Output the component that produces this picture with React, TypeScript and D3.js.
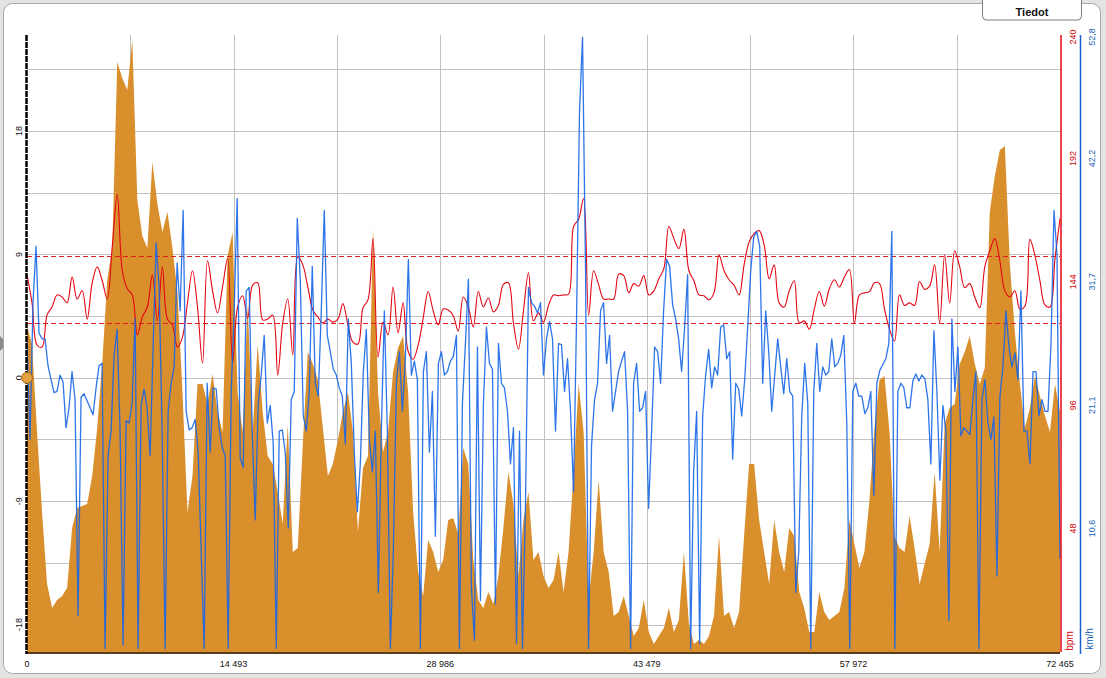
import React from "react";
import * as d3 from "d3";

const DIST_MAX = 72465;
const X_TICKS = [0, 14493, 28986, 43479, 57972, 72465];
const GRADE_TICKS = [-18, -9, 0, 9, 18];
const HR_TICKS = [48, 96, 144, 192, 240];
const SPEED_TICKS = [10.56, 21.12, 31.68, 42.24, 52.8];
const HR_ZONES = [128, 154];

// altitude profile (m), evenly spaced over the distance
const ALTITUDE = [
  163, 154, 110, 70, 34, 22, 26, 28, 32, 62, 72, 73, 74, 88, 112, 144, 186, 202, 295, 287,
  281, 306, 226, 208, 202, 245, 224, 210, 220, 202, 180, 130, 70, 88, 134, 134, 124, 139, 120, 110,
  198, 210, 130,
  110, 174, 110, 154, 120, 98, 94, 80, 64, 114, 50, 52, 104, 150, 144, 136, 112, 88, 94, 106,
  120, 130, 110, 60, 92, 98, 212, 130, 100, 110, 140, 152, 158, 130, 70, 40, 28, 56, 50, 40, 46,
  66, 67, 59, 102, 94, 46, 26, 22, 30, 24, 38, 62, 90, 74, 38, 66, 80, 46, 50, 38,
  32, 36, 50, 30, 50, 90, 134, 110, 26, 50, 86, 50, 40, 18, 20, 28, 18, 8, 12, 26, 10, 4,
  8, 12, 22, 10, 16, 50, 14, 4, 6, 4, 8, 18, 58, 18, 20, 12, 20, 58, 94, 94,
  66, 50, 34, 66, 50, 40, 62, 58, 30, 22, 10, 10, 30, 20, 16, 18, 20, 32, 66, 54, 42, 50,
  76, 112, 136, 138, 110, 58, 52, 50, 68, 52, 34, 44, 54, 90, 50, 114, 122, 124, 144, 150,
  158, 144, 134, 142, 220, 238, 251, 253, 194, 160, 134, 112, 122, 138, 128, 118, 110, 134, 120,
];

// speed (km/h), evenly spaced over the distance
const SPEED = [
  26.5, 18.2, 29.9, 34.7, 27.3, 26.8, 26.8, 24.5, 23.3, 22.2,
  22.3, 23.7, 23.1, 19.2, 20.9, 24.0, 21.6, 3.1, 21.8, 22.1,
  21.5, 20.9, 20.3, 22.6, 24.5, 24.7, 0.3, 16.8, 18.9, 25.4,
  27.6, 18.9, 0.6, 19.8, 19.6, 21.3, 28.5, 0.3, 21.1, 22.5,
  20.9, 16.8, 26.1, 35.0, 31.2, 18.9, 0.3, 20.6, 23.0, 24.4,
  33.3, 29.2, 37.8, 20.6, 19.0, 19.2, 19.9, 17.1, 8.6, 0.3,
  23.0, 17.1, 22.6, 22.5, 19.2, 17.5, 16.8, 0.3, 22.3, 29.2,
  38.8,
  16.6, 15.8, 30.9, 31.2, 18.9, 11.3, 21.3, 23.7, 27.1, 19.6,
  21.1, 17.8, 0.3, 18.9, 19.0, 17.1, 10.6, 21.6, 22.3, 37.1,
  31.9, 20.2, 18.9, 22.3, 33.0, 23.0, 21.9, 29.2, 37.8, 27.1,
  25.7, 24.2, 23.7, 22.6, 21.9, 17.8, 28.5, 24.7, 17.1, 12.0,
  16.1, 24.0, 27.6, 18.2, 15.4, 18.9, 5.1, 18.9, 29.2, 18.9,
  0.3, 8.6, 23.0, 25.7, 20.6, 25.1, 33.6, 23.7, 24.9, 23.3,
  0.3, 24.0, 25.7, 17.1, 22.3, 9.9, 24.7, 25.7, 23.7, 24.0,
  24.9, 25.3, 27.1, 0.3, 21.3, 26.4, 31.9, 5.5, 1.0, 26.1,
  4.4, 21.3, 27.8, 24.7, 24.2, 4.1, 26.4, 23.0, 22.6, 20.6,
  16.1, 19.2, 0.7, 18.9, 0.3, 12.7, 31.2, 29.9, 29.6, 29.0,
  29.9, 23.7, 26.8, 28.3, 26.8, 18.9, 26.4, 26.3, 22.3, 25.1,
  20.6, 13.7, 28.5, 46.4, 52.6, 32.6, 0.3, 17.7, 21.6, 23.0,
  29.2, 29.9, 24.7, 27.1, 20.6, 22.3, 24.0, 24.9, 25.7, 20.6,
  0.3, 23.0, 24.7, 20.6, 20.9, 22.3, 12.3, 18.9, 26.1, 25.7,
  23.0, 29.2, 33.6, 33.0, 29.7, 28.5, 26.8, 24.0, 27.8, 32.3,
  0.3, 15.4, 20.6, 0.7, 20.2, 23.7, 25.9, 22.6, 24.4, 23.7,
  27.8, 28.0, 25.1, 25.7, 16.5, 23.0, 22.5, 20.2, 23.3, 27.8,
  32.6, 35.5, 36.0, 34.7, 23.0, 29.2, 25.7, 20.6, 23.7, 26.8,
  24.4, 22.1, 25.1, 22.3, 21.9, 5.1, 8.6, 20.2, 24.7, 21.3,
  0.3, 22.3, 26.4, 22.3, 24.4, 23.7, 24.0, 26.8, 24.4, 24.7,
  25.4, 27.1, 19.6, 0.3, 22.3, 23.0, 21.9, 21.9, 20.4, 20.9,
  22.3, 13.4, 23.0, 24.1, 24.6, 25.1, 26.4, 36.0, 0.3, 22.3,
  23.0, 22.6, 20.9, 20.9, 23.2, 23.8, 23.2, 23.7, 23.4, 21.6,
  16.1, 27.5, 22.3, 14.7, 21.1, 18.9, 2.7, 28.5, 22.3, 26.1,
  18.5, 19.2, 18.9, 18.6, 21.6, 24.0, 0.3, 21.6, 23.3, 19.6,
  18.2, 20.1, 6.5, 21.9, 24.4, 29.2, 26.1, 24.4, 25.6, 23.3,
  30.9, 18.9, 18.9, 16.1, 24.0, 24.0, 20.2, 21.6, 20.6, 20.6,
  26.4, 37.8, 34.0, 8.0,
];

// heart rate (bpm), evenly spaced over the distance
const HEART_RATE = [
  146.7, 135.8, 119.4, 118.6, 131.1, 134.2, 138.9, 138.1, 135.8, 145.9,
  137.3, 140.5, 129.5, 143.6, 149.8, 144.4, 137.3, 157.7, 178.0, 148.3,
  141.3, 138.9, 123.3, 130.3, 134.2, 146.7, 128.8, 149.8, 129.5, 127.2,
  118.6, 122.5, 135.8, 148.3, 134.2, 112.3, 152.2, 140.5, 131.9, 142.0,
  153.0, 112.3, 134.2,
  138.6, 129.8, 142.7, 143.6, 129.2, 129.5, 131.1, 107.7, 128.0, 137.3,
  115.5, 153.8, 150.6, 142.0, 133.0, 130.3, 128.0, 129.5, 128.3, 129.5,
  135.5, 127.2, 120.5, 119.8, 133.9, 137.0, 160.8, 114.7, 128.3, 123.3,
  142.0, 124.1, 135.8, 117.0, 113.9, 119.4, 129.8, 140.2, 132.7, 127.2,
  133.4,
  133.0, 130.8, 124.8, 138.1, 134.2, 126.4, 140.2, 134.2, 137.7, 132.3,
  134.8, 143.0, 143.6, 128.0, 117.8, 132.7, 147.5, 128.8, 131.9, 128.3,
  134.8, 138.9, 138.6, 138.9, 139.2, 165.5, 168.3, 176.4, 131.0, 148.3,
  142.8, 137.3, 137.3, 137.3, 147.0, 146.4, 139.7, 143.3, 142.3, 146.4,
  138.9, 140.5,
  145.2, 149.1, 165.5, 160.8, 156.9, 164.4, 148.3, 144.4, 138.9, 138.6,
  137.0, 139.7, 154.5, 148.3, 144.8, 142.7, 138.9, 150.6, 159.5, 162.7,
  163.9, 158.4, 145.2, 150.6, 135.8, 134.2, 140.5, 144.4, 128.0, 128.8,
  125.6, 133.4, 140.2, 134.5, 141.3, 144.8, 142.0, 145.9, 148.8, 128.0,
  138.9, 139.7,
  140.2, 143.6, 143.3, 133.4, 125.6, 120.9, 138.9, 134.8, 135.8, 134.8,
  144.1, 141.1, 142.3, 150.6, 128.0, 154.5, 135.8, 156.1, 149.8, 141.7,
  143.3, 138.1, 133.9, 149.8, 156.1, 160.8, 152.2, 140.5, 138.1, 140.5,
  133.4, 134.5, 160.5, 154.2, 144.4, 135.0, 134.2, 153.0, 168.6,
];

const FONT = "'Liberation Sans', Arial, sans-serif";
const fmtThousands = (n: number) => String(n).replace(/\B(?=(\d{3})+(?!\d))/g, " ");
const fmtComma = (n: number) => n.toFixed(1).replace(".", ",");

export default function App() {
  const W = 1106;
  const H = 678;
  const left = 27;
  const right = 1060;
  const top = 35;
  const bottom = 652;

  const x = d3.scaleLinear().domain([0, DIST_MAX]).range([left, right]);
  const yGrade = d3.scaleLinear().domain([-20, 25]).range([bottom, top]);
  const yAlt = d3.scaleLinear().domain([0, 308.5]).range([bottom, top]);
  const yHr = d3.scaleLinear().domain([0, 240]).range([bottom, top]);
  const ySpd = d3.scaleLinear().domain([0, 52.8]).range([bottom, top]);

  const distOf = (n: number) => (i: number) => (i * DIST_MAX) / (n - 1);
  const dAlt = distOf(ALTITUDE.length);
  const dSpd = distOf(SPEED.length);
  const dHr = distOf(HEART_RATE.length);

  const altArea = d3
    .area<number>()
    .x((_, i) => x(dAlt(i)))
    .y0(bottom)
    .y1((d) => yAlt(d))(ALTITUDE) as string;
  const spdLine = d3
    .line<number>()
    .x((_, i) => x(dSpd(i)))
    .y((d) => ySpd(d))(SPEED) as string;
  const hrLine = d3
    .line<number>()
    .curve(d3.curveCatmullRom.alpha(0.5))
    .x((_, i) => x(dHr(i)))
    .y((d) => yHr(d))(HEART_RATE) as string;

  const hGrid = d3.range(0, 10).map((k) => -18 + 4.5 * k);
  const vGrid = d3.range(1, 10).map((k) => (DIST_MAX / 10) * k);

  return (
    <svg
      width={W}
      height={H}
      style={{ position: "fixed", left: 0, top: 0, display: "block" }}
      fontFamily={FONT}
    >
      <rect x={0} y={0} width={W} height={H} fill="#e3e3e3" />
      <rect x={3.5} y={3.5} width={1097} height={670} rx={9} fill="#ffffff" stroke="#a9a9a9" />
      <path d="M0,336 L3,339 L3,348 L0,351 Z" fill="#8a8a8a" />

      {/* grid */}
      {hGrid.map((g) => (
        <line
          key={"h" + g}
          x1={left}
          x2={right}
          y1={Math.round(yGrade(g)) + 0.5}
          y2={Math.round(yGrade(g)) + 0.5}
          stroke="#c2c2c2"
        />
      ))}
      {vGrid.map((g) => (
        <line
          key={"v" + g}
          x1={Math.round(x(g)) + 0.5}
          x2={Math.round(x(g)) + 0.5}
          y1={top}
          y2={bottom}
          stroke="#c2c2c2"
        />
      ))}

      {/* altitude */}
      <path d={altArea} fill="#d98f2c" />

      {/* HR zone limits */}
      {HR_ZONES.map((z) => (
        <line
          key={"z" + z}
          x1={left}
          x2={right}
          y1={Math.round(yHr(z)) + 0.5}
          y2={Math.round(yHr(z)) + 0.5}
          stroke="#e02020"
          strokeDasharray="5,3"
        />
      ))}

      <path d={hrLine} fill="none" stroke="#e30613" strokeWidth={1.1} strokeLinejoin="round" />
      <path
        d={spdLine}
        fill="none"
        stroke="#1766e8"
        strokeWidth={1.3}
        strokeOpacity={0.9}
        strokeLinejoin="round"
      />

      {/* bottom axis */}
      <line x1={left} x2={right} y1={653} y2={653} stroke="#5a3d1e" strokeWidth={2} />
      {X_TICKS.map((t) => (
        <text key={"xt" + t} x={x(t)} y={667} fontSize={9} textAnchor="middle" fill="#111">
          {fmtThousands(t)}
        </text>
      ))}

      {/* left axis */}
      <line x1={26.5} x2={26.5} y1={top} y2={654} stroke="#000" strokeWidth={2.5} strokeDasharray="6,1" />
      {GRADE_TICKS.map((t) => (
        <text
          key={"gt" + t}
          transform={`translate(21.5,${yGrade(t)}) rotate(-90)`}
          fontSize={9}
          textAnchor="middle"
          fill="#111"
        >
          {t}
        </text>
      ))}
      <circle cx={27} cy={yGrade(0)} r={5.5} fill="#e3a13f" stroke="#a86c1e" strokeWidth={1} />

      {/* HR axis */}
      <line x1={1061} x2={1061} y1={top} y2={bottom} stroke="#e30613" strokeWidth={1.5} />
      {HR_TICKS.map((t) => (
        <text
          key={"ht" + t}
          transform={`translate(1075.5,${Math.max(yHr(t), 37)}) rotate(-90)`}
          fontSize={9}
          textAnchor="middle"
          fill="#d40000"
        >
          {t}
        </text>
      ))}
      <text transform="translate(1073,641) rotate(-90)" fontSize={10} textAnchor="middle" fill="#d40000">
        bpm
      </text>

      {/* speed axis */}
      <line x1={1080.5} x2={1080.5} y1={top} y2={654} stroke="#1a5fd0" strokeWidth={1.5} />
      {SPEED_TICKS.map((t) => (
        <text
          key={"st" + t}
          transform={`translate(1094.5,${Math.max(ySpd(t), 37)}) rotate(-90)`}
          fontSize={9}
          textAnchor="middle"
          fill="#1a5fb4"
        >
          {fmtComma(t)}
        </text>
      ))}
      <text transform="translate(1093,639) rotate(-90)" fontSize={10} textAnchor="middle" fill="#1a5fb4">
        km/h
      </text>

      {/* Tiedot button */}
      <rect x={982.5} y={-6} width={99} height={26} rx={4} fill="#ffffff" stroke="#7d7d7d" />
      <text x={1032} y={16} fontSize={11} fontWeight="bold" textAnchor="middle" fill="#111">
        Tiedot
      </text>
    </svg>
  );
}
